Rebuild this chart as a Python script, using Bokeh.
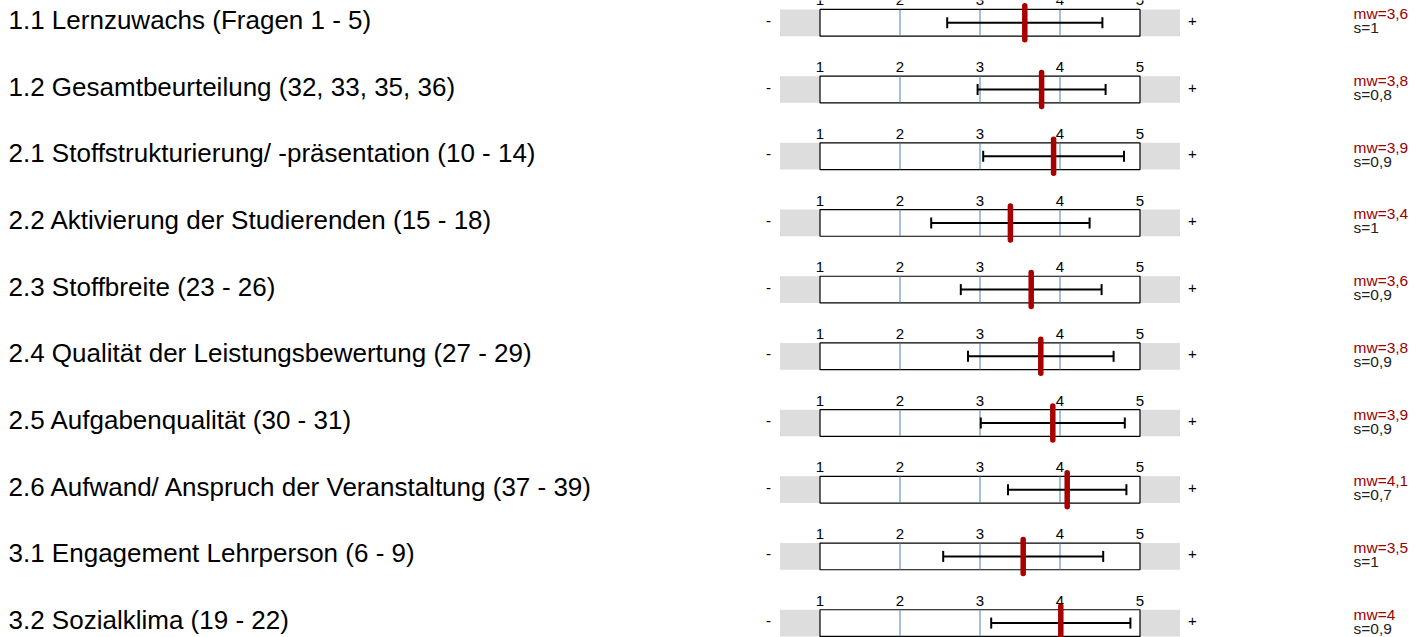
from bokeh.plotting import figure
from bokeh.models import Range1d, ColumnDataSource
from bokeh.core.properties import value
from bokeh.embed import file_html
from bokeh.resources import INLINE

# ---- data ----
categories = [
    "1.1 Lernzuwachs (Fragen 1 - 5)",
    "1.2 Gesamtbeurteilung (32, 33, 35, 36)",
    "2.1 Stoffstrukturierung/ -präsentation (10 - 14)",
    "2.2 Aktivierung der Studierenden (15 - 18)",
    "2.3 Stoffbreite (23 - 26)",
    "2.4 Qualität der Leistungsbewertung (27 - 29)",
    "2.5 Aufgabenqualität (30 - 31)",
    "2.6 Aufwand/ Anspruch der Veranstaltung (37 - 39)",
    "3.1 Engagement Lehrperson (6 - 9)",
    "3.2 Sozialklima (19 - 22)",
]
means = [3.56, 3.77, 3.92, 3.38, 3.64, 3.76, 3.91, 4.09, 3.54, 4.01]
sds = [0.97, 0.80, 0.88, 0.99, 0.88, 0.91, 0.90, 0.74, 1.00, 0.87]
scale_ticks = [1, 2, 3, 4, 5]
scale_min, scale_max = 1, 5


def fmt(v):
    r = round(v, 1)
    if abs(r - round(r)) < 1e-9:
        return str(int(round(r)))
    return ("%.1f" % r).replace(".", ",")


n = len(categories)
rows = list(range(n))

FONT = value("Liberation Sans")
W, H = 1424, 637
PX_PER_UNIT = 80.0
ROW_PX = 66.7
BOX_H = 0.4
X0 = 1 - 819.5 / PX_PER_UNIT
X1 = X0 + W / PX_PER_UNIT
Y_TOP = -22.3 / ROW_PX
Y_BOT = Y_TOP + H / ROW_PX

p = figure(width=W, height=H, output_backend="svg", toolbar_location=None,
           x_range=Range1d(X0, X1), y_range=Range1d(Y_BOT, Y_TOP),
           min_border=0, min_border_left=0, min_border_right=0,
           min_border_top=0, min_border_bottom=0)
p.axis.visible = False
p.grid.visible = False
p.outline_line_color = None
p.background_fill_color = "white"
p.border_fill_color = "white"

# gray band
p.quad(left=[scale_min - 0.5] * n, right=[scale_max + 0.5] * n,
       top=[r - BOX_H / 2 for r in rows], bottom=[r + BOX_H / 2 for r in rows],
       fill_color="#dddddd", line_color=None)
# white box
p.quad(left=[scale_min] * n, right=[scale_max] * n,
       top=[r - BOX_H / 2 for r in rows], bottom=[r + BOX_H / 2 for r in rows],
       fill_color="white", line_color="black", line_width=1.2)

# inner blue grid lines
gx, gy0, gy1 = [], [], []
for r in rows:
    for t in scale_ticks[1:-1]:
        gx.append(t)
        gy0.append(r - BOX_H / 2)
        gy1.append(r + BOX_H / 2)
p.segment(x0=gx, x1=gx, y0=gy0, y1=gy1, line_color="#4a7ebb", line_width=1)

# tick labels above each box
tx, ty, tt = [], [], []
for r in rows:
    for t in scale_ticks:
        tx.append(t)
        ty.append(r - BOX_H / 2 - 4 / ROW_PX)
        tt.append(str(t))
p.text(x=tx, y=ty, text=tt, text_font=FONT, text_font_size="15px",
       text_align="center", text_baseline="bottom", text_color="black")

# error bars (mean +- s)
lo = [m - s for m, s in zip(means, sds)]
hi = [m + s for m, s in zip(means, sds)]
p.segment(x0=lo, x1=hi, y0=rows, y1=rows, line_color="black", line_width=2)
cap = 5.5 / ROW_PX
p.segment(x0=lo, x1=lo, y0=[r - cap for r in rows], y1=[r + cap for r in rows],
          line_color="black", line_width=2)
p.segment(x0=hi, x1=hi, y0=[r - cap for r in rows], y1=[r + cap for r in rows],
          line_color="black", line_width=2)

# mean marker
mh = 17 / ROW_PX
p.segment(x0=means, x1=means, y0=[r - mh for r in rows], y1=[r + mh for r in rows],
          line_color="#a80000", line_width=5.5, line_cap="round")

# - and + signs
p.text(x=[0.356] * n, y=[r - 2 / ROW_PX for r in rows], text=["-"] * n,
       text_font=FONT, text_font_size="15px", text_align="center",
       text_baseline="middle", text_color="black")
p.text(x=[5.656] * n, y=[r - 2 / ROW_PX for r in rows], text=["+"] * n,
       text_font=FONT, text_font_size="15px", text_align="center",
       text_baseline="middle", text_color="black")

# category labels
p.text(x=[X0 + 8 / PX_PER_UNIT] * n, y=[r - 3 / ROW_PX for r in rows], text=categories,
       text_font=FONT, text_font_size="26px", text_align="left",
       text_baseline="middle", text_color="black")

# mw / s labels
src = ColumnDataSource(dict(
    x=[7.669] * n,
    ym=[r - 9 / ROW_PX for r in rows],
    ys=[r + 5 / ROW_PX for r in rows],
    mw=["mw=" + fmt(m) for m in means],
    s=["s=" + fmt(s) for s in sds],
))
p.text(x="x", y="ym", text="mw", source=src, text_font=FONT,
       text_font_size="15.5px", text_align="left", text_baseline="middle",
       text_color="#990000")
p.text(x="x", y="ys", text="s", source=src, text_font=FONT,
       text_font_size="15.5px", text_align="left", text_baseline="middle",
       text_color="#222222")

open("out.html", "w").write(file_html(p, INLINE))
